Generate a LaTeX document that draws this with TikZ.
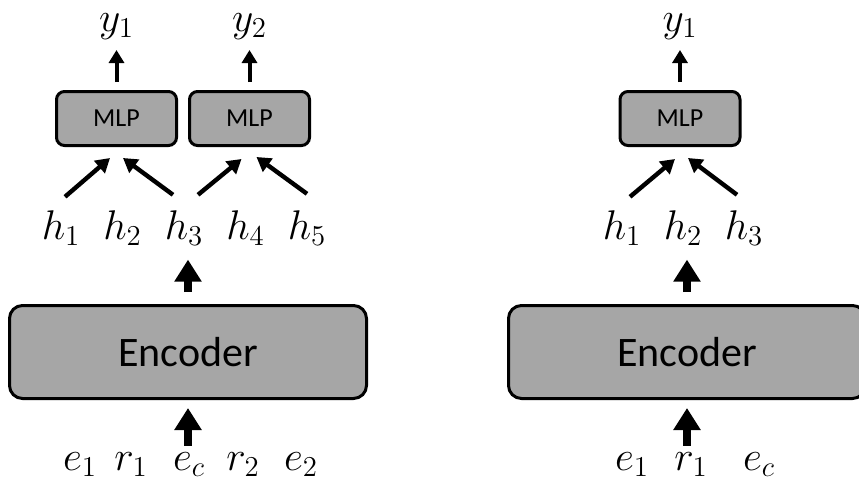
\documentclass[tikz,border=0pt]{standalone}
\usepackage[no-math]{fontspec}
\setmainfont{Carlito}
\usetikzlibrary{arrows.meta,positioning,calc}
\definecolor{boxgray}{HTML}{A6A6A6}

\begin{document}
\begin{tikzpicture}[
  x=0.5pt, y=0.5pt,
  enc/.style={draw, line width=1.5pt, rounded corners=6.5pt, fill=boxgray, minimum width=178.5pt, minimum height=46.5pt, font=\fontsize{21pt}{25pt}\selectfont},
  mlp/.style={draw, line width=1.5pt, rounded corners=4pt, fill=boxgray, minimum width=60pt, minimum height=27pt, font=\fontsize{13pt}{15pt}\selectfont},
  lbl/.style={inner sep=0pt, anchor=base, font=\fontsize{20.74pt}{25pt}\selectfont},
  bigarrow/.style={-{Triangle[width=13pt,length=11pt]}, line width=4pt},
  arrow/.style={-{Triangle[width=7.5pt,length=6.5pt]}, line width=2pt},
  slant/.style={-{Triangle[width=8pt,length=7pt]}, line width=2.2pt}
]
\useasboundingbox (0,0) rectangle (859,495);
\clip (0,0) rectangle (859,495);

% left: five tokens, two heads
\node[enc] (encL) at (188,143) {Encoder};
\node[mlp] (mlpA) at (116.5,376.5) {MLP};
\node[mlp, right=5pt of mlpA] (mlpB) {MLP};
\node[lbl, above=25pt of mlpA] (yA) {$y_1$};
\node[lbl, above=25pt of mlpB] (yB) {$y_2$};

\foreach \i/\x in {1/61,2/122.5,3/184,4/245.5,5/307}
  \node[lbl] (h\i) at (\x,256) {$h_\i$};
\foreach \n/\t/\x in {le1/e_1/80,lr1/r_1/131,lec/e_c/189,lr2/r_2/243,le2/e_2/301}
  \node[lbl] (\n) at (\x,25) {$\t$};

\draw[bigarrow, shorten <=3pt, shorten >=4pt] (encL.south |- lec.north) -- (encL.south);
\draw[bigarrow, shorten <=6pt, shorten >=7pt] (encL.north) -- (encL.north |- h3.south);
\draw[slant] ($(h1.north)+(4,13)$) -- ($(mlpA.south)+(-6.5,-11)$);
\draw[slant] ($(h3.north)+(-11,15)$) -- ($(mlpA.south)+(6.5,-11)$);
\draw[slant] ($(h3.north)+(14,15)$) -- ($(mlpB.south)+(-8,-12)$);
\draw[slant] ($(h5.north)+(0,16)$) -- ($(mlpB.south)+(7,-10)$);
\draw[arrow, shorten <=4pt, shorten >=5pt] (mlpA) -- (yA);
\draw[arrow, shorten <=4pt, shorten >=5pt] (mlpB) -- (yB);

% right: three tokens, one head
\node[enc] (encR) at (687,143) {Encoder};
\node[mlp] (mlpR) at (680,376.5) {MLP};
\node[lbl, above=25pt of mlpR] (yR) {$y_1$};

\foreach \i/\x in {1/622,2/683,3/744}
  \node[lbl] (hR\i) at (\x,256) {$h_\i$};
\foreach \n/\t/\x in {re1/e_1/632,rr1/r_1/691,rec/e_c/759}
  \node[lbl] (\n) at (\x,25) {$\t$};

\draw[bigarrow, shorten <=3pt, shorten >=4pt] (encR.south |- rr1.north) -- (encR.south);
\draw[bigarrow, shorten <=6pt, shorten >=7pt] (encR.north) -- (encR.north |- hR2.south);
\draw[slant] ($(hR1.north)+(8,13)$) -- ($(mlpR.south)+(-5,-12)$);
\draw[slant] ($(hR3.north)+(-7,15)$) -- ($(mlpR.south)+(8,-11)$);
\draw[arrow, shorten <=4pt, shorten >=5pt] (mlpR) -- (yR);

\end{tikzpicture}
\end{document}
